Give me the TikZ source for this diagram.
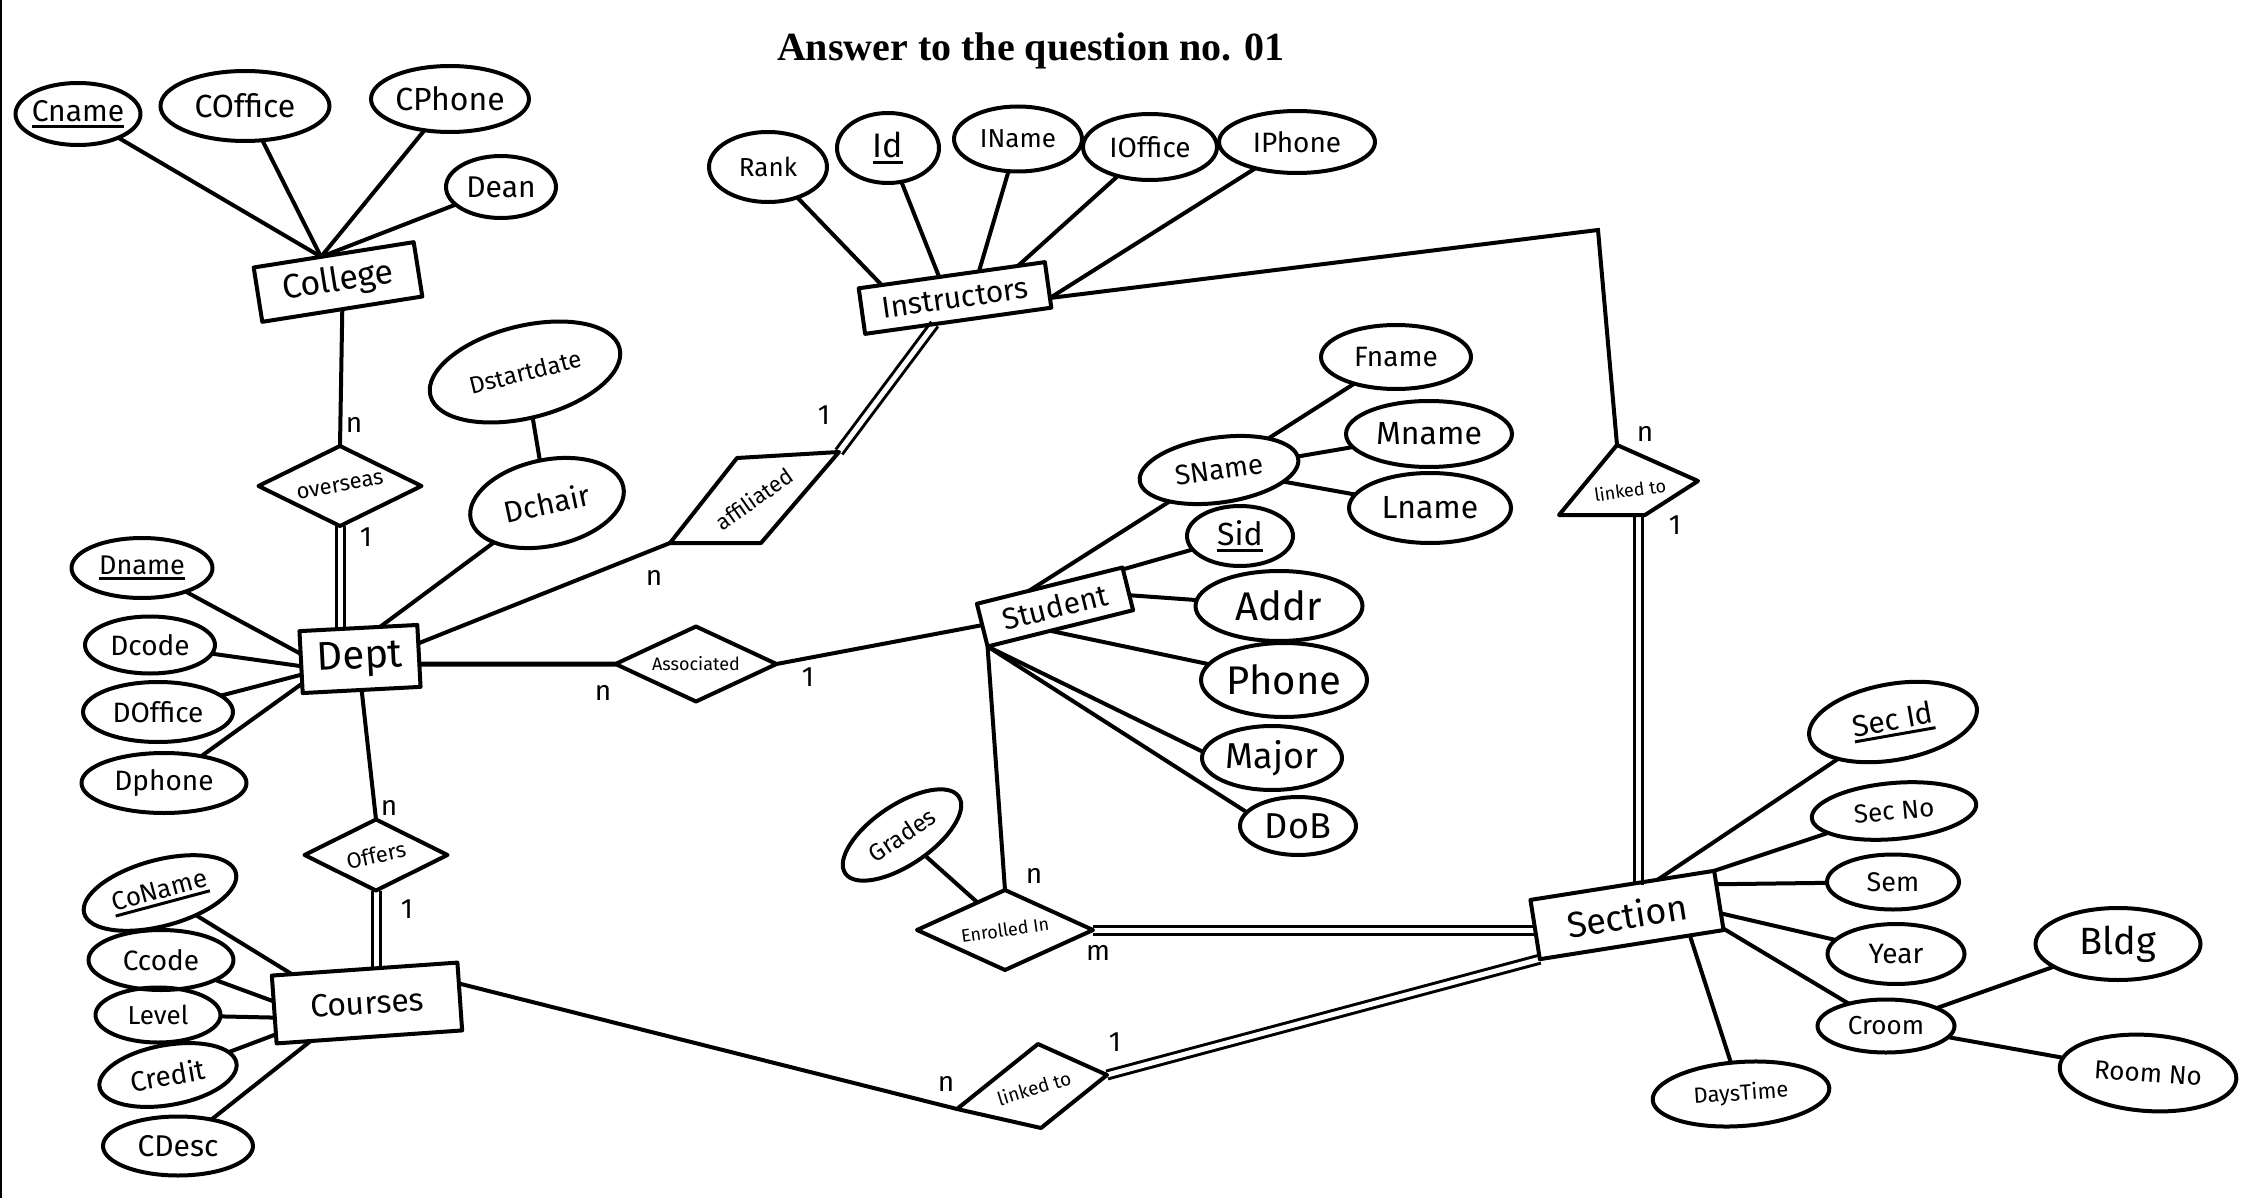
\documentclass[tikz,border=0pt]{standalone}
\usepackage{fontspec}
\usepackage{graphicx}
\setmainfont{Fira Sans}
\newfontfamily\titlefont{Liberation Serif}
\usetikzlibrary{shapes.geometric,backgrounds}
\newcommand\zw[1]{\makebox[0pt][c]{#1}}
\newcommand\keyattr[1]{\setbox0=\hbox{#1}\vtop{\copy0\kern3pt\hrule height 3pt}}
\tikzset{
  shp/.style={draw, line width=4pt, inner sep=0pt, outer sep=0pt},
  ent/.style={shp, rectangle},
  attr/.style={shp, ellipse},
  rel/.style={shp, diamond},
  conn/.style={line width=4pt},
  dbl/.style={double, double distance=5pt, line width=3pt, line cap=butt},
  card/.style={font=\fontsize{28}{28}\selectfont, inner sep=0pt},
  fs/.style={font=\fontsize{#1}{#1}\selectfont},
}
\begin{document}
\begin{tikzpicture}[x=1pt,y=-1pt,line join=round,line cap=round]
\useasboundingbox (0,0) rectangle (2244,1198);

% title
\node[font=\titlefont\bfseries\fontsize{40}{40}\selectfont] (title) at (1031,51) {Answer to the question no. 01};

% entities
\node[ent, minimum width=162pt, minimum height=55pt, rotate=9, fs=34] (college) at (338,282) {College};
\node[ent, minimum width=118pt, minimum height=62pt, rotate=3, fs=40] (dept) at (360,659) {Dept};
\node[ent, minimum width=188pt, minimum height=46pt, rotate=8, fs=30] (instr) at (955,298) {Instructors};
\node[ent, minimum width=150pt, minimum height=44pt, rotate=14, fs=30] (student) at (1055,607) {Student};
\node[ent, minimum width=186pt, minimum height=60pt, rotate=9, fs=36] (section) at (1627,915) {Section};
\node[ent, minimum width=186pt, minimum height=68pt, rotate=4, fs=32] (courses) at (367,1003) {Courses};

% college attributes
\node[attr, minimum width=125pt, minimum height=62pt, fs=30] (cname) at (78,114) {\zw{\keyattr{Cname}}};
\node[attr, minimum width=169pt, minimum height=70pt, fs=32] (coffice) at (245,106) {\zw{COffice}};
\node[attr, minimum width=158pt, minimum height=66pt, fs=32] (cphone) at (450,99) {\zw{CPhone}};
\node[attr, minimum width=110pt, minimum height=62pt, fs=30] (dean) at (501,187) {\zw{Dean}};

% dept attributes
\node[attr, minimum width=195pt, minimum height=92pt, rotate=14, fs=24] (dstart) at (525,372) {\zw{Dstartdate}};
\node[attr, minimum width=156pt, minimum height=86pt, rotate=12, fs=30] (dchair) at (547,503) {\zw{Dchair}};
\node[attr, minimum width=141pt, minimum height=60pt, fs=27] (dname) at (142,568) {\zw{\keyattr{Dname}}};
\node[attr, minimum width=130pt, minimum height=57pt, fs=28] (dcode) at (150,645) {\zw{Dcode}};
\node[attr, minimum width=150pt, minimum height=60pt, fs=28] (doffice) at (158,712) {\zw{DOffice}};
\node[attr, minimum width=165pt, minimum height=60pt, fs=28] (dphone) at (164,783) {\zw{Dphone}};

% course attributes
\node[attr, minimum width=157pt, minimum height=66pt, rotate=15, fs=26] (coname) at (160,893) {\zw{\keyattr{CoName}}};
\node[attr, minimum width=145pt, minimum height=60pt, fs=28] (ccode) at (161,960) {\zw{Ccode}};
\node[attr, minimum width=125pt, minimum height=55pt, fs=26] (level) at (158,1015) {\zw{Level}};
\node[attr, minimum width=139pt, minimum height=60pt, rotate=10, fs=28] (credit) at (168,1075) {\zw{Credit}};
\node[attr, minimum width=150pt, minimum height=59pt, fs=30] (cdesc) at (178,1146) {\zw{CDesc}};

% instructor attributes
\node[attr, minimum width=118pt, minimum height=70pt, fs=26] (rank) at (768,167) {\zw{Rank}};
\node[attr, minimum width=102pt, minimum height=70pt, fs=34] (iid) at (888,148) {\zw{\keyattr{Id}}};
\node[attr, minimum width=128pt, minimum height=65pt, fs=26] (iname) at (1018,139) {\zw{IName}};
\node[attr, minimum width=134pt, minimum height=66pt, fs=28] (ioffice) at (1150,147) {\zw{IOffice}};
\node[attr, minimum width=156pt, minimum height=62pt, fs=28] (iphone) at (1297,142) {\zw{IPhone}};

% student attributes
\node[attr, minimum width=150pt, minimum height=64pt, fs=28] (fname) at (1396,357) {\zw{Fname}};
\node[attr, minimum width=166pt, minimum height=66pt, fs=32] (mname) at (1429,434) {\zw{Mname}};
\node[attr, minimum width=162pt, minimum height=70pt, fs=32] (lname) at (1430,508) {\zw{Lname}};
\node[attr, minimum width=160pt, minimum height=65pt, rotate=8, fs=28] (sname) at (1219,470) {\zw{SName}};
\node[attr, minimum width=106pt, minimum height=60pt, fs=32] (sid) at (1240,536) {\zw{\keyattr{Sid}}};
\node[attr, minimum width=167pt, minimum height=70pt, fs=40] (addr) at (1279,606) {\zw{Addr}};
\node[attr, minimum width=166pt, minimum height=74pt, fs=40] (phone) at (1284,680) {\zw{Phone}};
\node[attr, minimum width=140pt, minimum height=64pt, fs=36] (major) at (1272,758) {\zw{Major}};
\node[attr, minimum width=116pt, minimum height=58pt, fs=36] (dob) at (1298,826) {\zw{DoB}};
\node[attr, minimum width=137pt, minimum height=60pt, rotate=34, fs=24] (grades) at (902,835) {\zw{Grades}};

% section attributes
\node[attr, minimum width=170pt, minimum height=76pt, rotate=10, fs=30] (secid) at (1893,722) {\zw{\keyattr{Sec Id}}};
\node[attr, minimum width=165pt, minimum height=56pt, rotate=5, fs=26] (secno) at (1894,811) {\zw{Sec No}};
\node[attr, minimum width=132pt, minimum height=55pt, fs=27] (sem) at (1893,882) {\zw{Sem}};
\node[attr, minimum width=137pt, minimum height=60pt, fs=28] (year) at (1896,954) {\zw{Year}};
\node[attr, minimum width=137pt, minimum height=53pt, fs=26] (croom) at (1886,1026) {\zw{Croom}};
\node[attr, minimum width=165pt, minimum height=72pt, fs=38] (bldg) at (2118,944) {\zw{Bldg}};
\node[attr, minimum width=177pt, minimum height=76pt, rotate=-4, fs=26] (roomno) at (2148,1073) {\zw{Room No}};
\node[attr, minimum width=177pt, minimum height=64pt, rotate=4, fs=22] (daystime) at (1741,1094) {\zw{DaysTime}};

% relationships
\node[rel, minimum width=163pt, minimum height=80pt, fs=22] (overseas) at (340,486) {\zw{\rotatebox{10}{overseas}}};
\node[rel, minimum width=161pt, minimum height=75pt, fs=18] (assoc) at (696,664) {\zw{Associated}};
\node[rel, minimum width=143pt, minimum height=71pt, fs=22] (offers) at (376,855) {\zw{\rotatebox{12}{Offers}}};
\node[rel, minimum width=176pt, minimum height=80pt, fs=18] (enrolled) at (1005,930) {\zw{\rotatebox{8}{Enrolled In}}};

% affiliated (parallelogram)
\coordinate (a-tl) at (737,458);
\coordinate (a-tr) at (839,452);
\coordinate (a-br) at (761,543);
\coordinate (a-bl) at (670,543);
\draw[shp] (a-tl) -- (a-tr) -- (a-br) -- (a-bl) -- cycle;
\node[fs=22, rotate=35] (aff) at (754,499) {affiliated};

% linked to (top)
\coordinate (lt-t) at (1617,445);
\coordinate (lt-r) at (1698,481);
\coordinate (lt-br) at (1645,515);
\coordinate (lt-bl) at (1559,515);
\coordinate (lt-b) at (1638,515);
\draw[shp] (lt-t) -- (lt-r) -- (lt-br) -- (lt-bl) -- cycle;
\node[fs=18, rotate=8] (ltt) at (1630,490) {linked to};

% linked to (bottom)
\coordinate (lb-t) at (1038,1044);
\coordinate (lb-r) at (1107,1075);
\coordinate (lb-b) at (1041,1128);
\coordinate (lb-l) at (957,1109);
\draw[shp] (lb-t) -- (lb-r) -- (lb-b) -- (lb-l) -- cycle;
\node[fs=19, rotate=17] (lbt) at (1034,1088) {linked to};

\coordinate (cornerR) at (1598,230);

% cardinalities
\node[card] (k1) at (354,425) {n};
\node[card] (k2) at (366,537) {1};
\node[card] (k3) at (654,578) {n};
\node[card] (k4) at (824,415) {1};
\node[card] (k5) at (603,693) {n};
\node[card] (k6) at (808,677) {1};
\node[card] (k7) at (389,808) {n};
\node[card] (k8) at (407,909) {1};
\node[card] (k9) at (1034,876) {n};
\node[card] (k10) at (1098,953) {m};
\node[card] (k11) at (1645,434) {n};
\node[card] (k12) at (1675,525) {1};
\node[card] (k13) at (946,1084) {n};
\node[card] (k14) at (1115,1042) {1};

\begin{pgfonlayer}{background}
\fill[white] (0,0) rectangle (2244,1198);
\draw[line width=2pt] (1,0) -- (1,1198);
% college
\draw[conn] (cname) -- (college.115);
\draw[conn] (coffice) -- (college.115);
\draw[conn] (cphone) -- (college.115);
\draw[conn] (dean) -- (college.115);
\draw[conn] (college.south) -- (overseas.north);
\draw[dbl] (overseas.south) -- (overseas.south |- dept.north);
% dept
\draw[conn] (dstart) -- (dchair);
\draw[conn] (dchair) -- (dept.55);
\draw[conn] (dname) -- (dept.172);
\draw[conn] (dcode) -- (dept.184);
\draw[conn] (doffice) -- (dept.192);
\draw[conn] (dphone) -- (dept.200);
\draw[conn] (dept.12) -- (a-bl);
\draw[line width=5pt] (dept.-8) -- (assoc.west);
\draw[conn] (assoc.east) -- (student.west);
\draw[conn] (dept.south) -- (offers.north);
\draw[dbl] (offers.south) -- (offers.south |- courses.north);
% courses
\draw[conn] (coname) -- (courses.155);
\draw[conn] (ccode) -- (courses.175);
\draw[conn] (level) -- (courses.185);
\draw[conn] (credit) -- (courses.195);
\draw[conn] (cdesc) -- (courses.-150);
\draw[conn] (courses.8) -- (lb-l);
\draw[dbl] (lb-r) -- (section.south west);
% instructors
\draw[conn] (rank) -- (instr.162);
\draw[conn] (iid) -- (instr.119);
\draw[conn] (iname) -- (instr.40);
\draw[conn] (ioffice) -- (instr.19);
\draw[conn] (iphone) -- (instr.-8);
\draw[dbl] (instr.-136) -- (a-tr);
\draw[conn] (instr.-8) -- (cornerR) -- (lt-t);
\draw[dbl] (lt-b) -- (lt-b |- section.north);
% student
\draw[conn] (sname) -- (student.134);
\draw[conn] (sname) -- (fname);
\draw[conn] (sname) -- (mname);
\draw[conn] (sname) -- (lname);
\draw[conn] (sid) -- (student.15);
\draw[conn] (addr) -- (student.-5);
\draw[conn] (phone) -- (student.-115);
\draw[conn] (student.south west) -- (major.175);
\draw[conn] (student.south west) -- (dob.165);
\draw[conn] (student.south west) -- (enrolled.north);
\draw[conn] (grades) -- (enrolled.135);
\draw[dbl] (enrolled.east) -- (enrolled.east -| section.west);
% section
\draw[conn] (secid) -- (section.40);
\draw[conn] (secno) -- (section.north east);
\draw[conn] (sem) -- (section.10);
\draw[conn] (year) -- (section.-8);
\draw[conn] (croom) -- (section.-17);
\draw[conn] (daystime) -- (section.-27);
\draw[conn] (croom) -- (bldg);
\draw[conn] (croom) -- (roomno);
\end{pgfonlayer}
\end{tikzpicture}
\end{document}
